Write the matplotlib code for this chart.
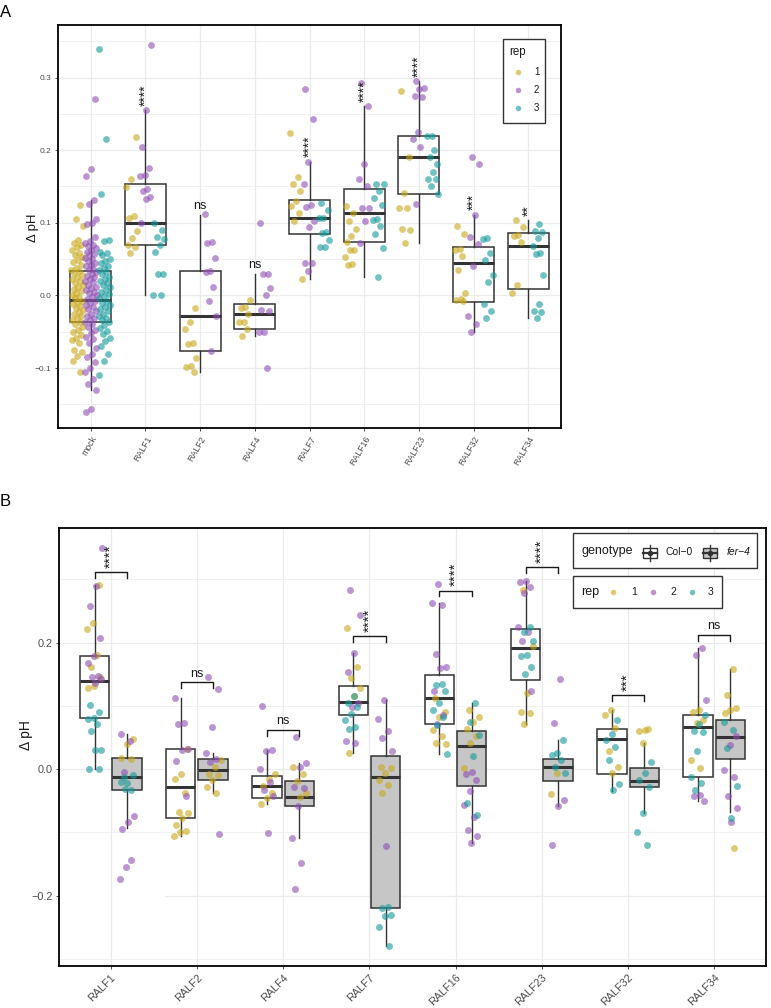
import numpy as np
import matplotlib.pyplot as plt
from matplotlib.patches import Rectangle
from matplotlib.lines import Line2D

plt.rcParams.update({'font.family': ['Liberation Sans', 'DejaVu Sans'], 'font.size': 8})

W, H = 771, 1008
REP_COLORS = {1: '#C9A81A', 2: '#8E4FB4', 3: '#14999A'}
ALPHA = 0.6
BOX_EDGE = '#333333'
GRID = '#EBEBEB'

# ---------------- panel A data ----------------
A_groups = ['mock', 'RALF1', 'RALF2', 'RALF4', 'RALF7', 'RALF16', 'RALF23', 'RALF32', 'RALF34']
A_q1 = [-0.037, 0.069, -0.077, -0.046, 0.084, 0.073, 0.140, -0.009, 0.009]
A_med = [-0.006, 0.100, -0.028, -0.026, 0.107, 0.113, 0.191, 0.044, 0.068]
A_q3 = [0.033, 0.154, 0.033, -0.012, 0.131, 0.147, 0.220, 0.066, 0.086]
A_lo = [-0.130, 0.000, -0.106, -0.056, 0.023, 0.025, 0.072, -0.050, -0.031]
A_hi = [0.131, 0.255, 0.111, 0.030, 0.184, 0.261, 0.295, 0.111, 0.104]
A_signif = ['', '****', 'ns', 'ns', '****', '****', '****', '***', '**']

A_mock = {
    1: [0.124, 0.105, 0.095, 0.076, 0.072, 0.070, 0.067, 0.063, 0.058, 0.055, 0.053, 0.049, 0.046,
        0.042, 0.038, 0.035, 0.033, 0.031, 0.028, 0.025, 0.022, 0.020, 0.017, 0.014, 0.012, 0.009,
        0.006, 0.004, 0.001, -0.002, -0.004, -0.007, -0.009, -0.012, -0.015, -0.018, -0.020, -0.023,
        -0.026, -0.029, -0.031, -0.034, -0.037, -0.040, -0.044, -0.047, -0.051, -0.054, -0.058,
        -0.061, -0.066, -0.075, -0.078, -0.084, -0.091, -0.105],
    2: [0.270, 0.174, 0.164, 0.131, 0.126, 0.105, 0.100, 0.098, 0.080, 0.075, 0.072, 0.070, 0.068,
        0.065, 0.062, 0.060, 0.057, 0.055, 0.052, 0.050, 0.048, 0.045, 0.042, 0.040, 0.037, 0.035,
        0.032, 0.030, 0.027, 0.025, 0.022, 0.020, 0.018, 0.015, 0.012, 0.010, 0.008, 0.005, 0.003,
        0.000, -0.002, -0.005, -0.008, -0.010, -0.013, -0.016, -0.019, -0.022, -0.025, -0.028,
        -0.031, -0.034, -0.037, -0.040, -0.044, -0.048, -0.052, -0.057, -0.060, -0.066, -0.072,
        -0.080, -0.085, -0.092, -0.100, -0.106, -0.115, -0.122, -0.130, -0.157, -0.160],
    3: [0.340, 0.216, 0.140, 0.077, 0.075, 0.060, 0.058, 0.055, 0.050, 0.047, 0.044, 0.041, 0.038,
        0.035, 0.032, 0.029, 0.026, 0.023, 0.020, 0.017, 0.014, 0.011, 0.008, 0.005, 0.002, -0.001,
        -0.004, -0.007, -0.010, -0.013, -0.016, -0.019, -0.022, -0.025, -0.028, -0.031, -0.034,
        -0.037, -0.041, -0.045, -0.049, -0.053, -0.058, -0.063, -0.070, -0.080, -0.090, -0.110],
}
A_RALF1 = {1: [0.218, 0.160, 0.149, 0.109, 0.107, 0.089, 0.079, 0.069, 0.067, 0.059],
           2: [0.345, 0.255, 0.205, 0.176, 0.166, 0.164, 0.146, 0.144, 0.135, 0.133, 0.100],
           3: [0.100, 0.090, 0.080, 0.078, 0.070, 0.060, 0.030, 0.029, 0.000, 0.001]}
A_RALF2 = {1: [-0.017, -0.036, -0.046, -0.066, -0.067, -0.086, -0.097, -0.098, -0.106],
           2: [0.112, 0.073, 0.072, 0.052, 0.033, 0.032, 0.012, -0.007, -0.028, -0.077],
           3: []}
A_RALF4 = {1: [-0.006, -0.016, -0.017, -0.026, -0.036, -0.037, -0.046, -0.056],
           2: [0.100, 0.030, 0.029, 0.010, 0.000, -0.020, -0.021, -0.050, -0.051, -0.100],
           3: []}
A_RALF7 = {1: [0.223, 0.163, 0.153, 0.144, 0.130, 0.123, 0.113, 0.103, 0.023],
           2: [0.284, 0.243, 0.184, 0.154, 0.124, 0.122, 0.103, 0.094, 0.045, 0.044, 0.034],
           3: [0.127, 0.117, 0.107, 0.106, 0.087, 0.086, 0.077, 0.067, 0.066]}
A_RALF16 = {1: [0.123, 0.113, 0.103, 0.092, 0.082, 0.073, 0.063, 0.062, 0.053, 0.043, 0.042],
            2: [0.293, 0.261, 0.181, 0.161, 0.151, 0.121, 0.120, 0.102, 0.072],
            3: [0.154, 0.153, 0.144, 0.134, 0.124, 0.105, 0.104, 0.095, 0.085, 0.065, 0.025]}
A_RALF23 = {1: [0.281, 0.191, 0.141, 0.121, 0.120, 0.091, 0.090, 0.072],
            2: [0.295, 0.285, 0.284, 0.274, 0.273, 0.225, 0.215, 0.205, 0.126],
            3: [0.220, 0.219, 0.200, 0.191, 0.181, 0.170, 0.161, 0.160, 0.151, 0.140]}
A_RALF32 = {1: [0.095, 0.084, 0.064, 0.063, 0.054, 0.035, 0.004, -0.005, -0.006, -0.007],
            2: [0.191, 0.181, 0.111, 0.081, 0.071, 0.040, -0.029, -0.039, -0.050],
            3: [0.079, 0.078, 0.059, 0.049, 0.028, 0.018, -0.012, -0.022, -0.031]}
A_RALF34 = {1: [0.104, 0.094, 0.083, 0.082, 0.074, 0.014, 0.004],
            2: [],
            3: [0.098, 0.089, 0.088, 0.079, 0.068, 0.058, 0.057, 0.028, -0.012, -0.022, -0.023, -0.031]}
A_points = [A_mock, A_RALF1, A_RALF2, A_RALF4, A_RALF7, A_RALF16, A_RALF23, A_RALF32, A_RALF34]

# ---------------- panel B data ----------------
B_groups = ['RALF1', 'RALF2', 'RALF4', 'RALF7', 'RALF16', 'RALF23', 'RALF32', 'RALF34']
B_col_q1 = [0.081, -0.077, -0.046, 0.085, 0.071, 0.141, -0.007, -0.013]
B_col_med = [0.140, -0.028, -0.026, 0.106, 0.112, 0.191, 0.048, 0.067]
B_col_q3 = [0.179, 0.032, -0.011, 0.131, 0.148, 0.222, 0.064, 0.086]
B_col_lo = [0.000, -0.106, -0.055, 0.025, 0.024, 0.072, -0.034, -0.051]
B_col_hi = [0.291, 0.112, 0.030, 0.183, 0.262, 0.298, 0.093, 0.191]
B_fer_q1 = [-0.033, -0.017, -0.058, -0.220, -0.026, -0.018, -0.028, 0.016]
B_fer_med = [-0.012, -0.002, -0.044, -0.013, 0.037, 0.004, -0.018, 0.051]
B_fer_q3 = [0.018, 0.016, -0.018, 0.021, 0.061, 0.016, 0.002, 0.077]
B_fer_lo = [-0.093, -0.037, -0.108, -0.280, -0.116, -0.058, -0.070, -0.068]
B_fer_hi = [0.056, 0.026, 0.010, 0.110, 0.104, 0.046, 0.042, 0.158]
B_bracket = [0.311, 0.137, 0.062, 0.210, 0.282, 0.319, 0.117, 0.212]
B_signif = ['****', 'ns', 'ns', '****', '****', '****', '***', 'ns']

B_RALF1_col = {1: [0.291, 0.231, 0.221, 0.181, 0.162, 0.146, 0.131, 0.128],
               2: [0.349, 0.289, 0.258, 0.207, 0.178, 0.167, 0.147, 0.145, 0.143, 0.136],
               3: [0.102, 0.091, 0.081, 0.079, 0.071, 0.061, 0.031, 0.030, 0.000, 0.001]}
B_RALF1_fer = {1: [0.048, 0.039, 0.018, 0.016],
               2: [0.056, 0.045, -0.004, -0.074, -0.084, -0.094, -0.143, -0.154, -0.174],
               3: [-0.012, -0.010, -0.022, -0.020, -0.033, -0.031]}
B_RALF2_col = {1: [0.032, -0.008, -0.016, -0.037, -0.067, -0.069, -0.077, -0.088, -0.097, -0.099, -0.106],
               2: [0.112, 0.073, 0.071, 0.032, 0.030, 0.013, -0.043],
               3: []}
B_RALF2_fer = {1: [0.014, 0.004, -0.007, -0.009, -0.017, -0.028, -0.037],
               2: [0.146, 0.126, 0.066, 0.026, 0.016, 0.012, -0.103],
               3: []}
B_RALF4_col = {1: [-0.007, -0.015, -0.026, -0.037, -0.046, -0.055],
               2: [0.100, 0.030, 0.028, 0.000, -0.020, -0.033, -0.043, -0.101],
               3: []}
B_RALF4_fer = {1: [0.004, -0.007, -0.018, -0.037, -0.044],
               2: [0.051, 0.010, 0.003, -0.028, -0.030, -0.058, -0.108, -0.149, -0.189],
               3: []}
B_RALF7_col = {1: [0.223, 0.162, 0.144, 0.129, 0.116, 0.025],
               2: [0.283, 0.244, 0.183, 0.153, 0.105, 0.098, 0.044, 0.042],
               3: [0.116, 0.105, 0.098, 0.087, 0.077, 0.066, 0.064]}
B_RALF7_fer = {1: [0.004, 0.002, -0.006, -0.017, -0.025, -0.037],
               2: [0.110, 0.080, 0.060, 0.049, 0.029, -0.122],
               3: [-0.218, -0.220, -0.230, -0.232, -0.249, -0.280]}
B_RALF16_col = {1: [0.112, 0.091, 0.083, 0.062, 0.052, 0.042, 0.040],
                2: [0.293, 0.262, 0.260, 0.182, 0.162, 0.160, 0.123, 0.086, 0.071],
                3: [0.135, 0.133, 0.123, 0.104, 0.094, 0.083, 0.070, 0.024]}
B_RALF16_fer = {1: [0.094, 0.083, 0.074, 0.063, 0.053, 0.042, 0.002],
                2: [-0.005, -0.007, -0.017, -0.035, -0.056, -0.075, -0.096, -0.105, -0.116],
                3: [0.105, 0.075, 0.054, 0.020, -0.054, -0.073]}
B_RALF23_col = {1: [0.283, 0.195, 0.121, 0.091, 0.089, 0.072],
                2: [0.298, 0.296, 0.287, 0.278, 0.225, 0.216, 0.202, 0.124],
                3: [0.225, 0.216, 0.203, 0.181, 0.179, 0.162, 0.150]}
B_RALF23_fer = {1: [-0.006, -0.039],
                2: [0.142, 0.073, -0.048, -0.059, -0.120],
                3: [0.046, 0.025, 0.023, 0.015, 0.004, -0.006]}
B_RALF32_col = {1: [0.094, 0.086, 0.065, 0.029, 0.003, -0.006],
                2: [],
                3: [0.077, 0.056, 0.046, 0.035, 0.014, -0.023, -0.033]}
B_RALF32_fer = {1: [0.062, 0.061, 0.063, 0.042],
                2: [],
                3: [0.012, -0.006, -0.017, -0.028, -0.070, -0.100, -0.120]}
B_RALF34_col = {1: [0.094, 0.090, 0.078, 0.073, 0.015, 0.002],
                2: [0.192, 0.181, 0.110, -0.041, -0.043, -0.051],
                3: [0.086, 0.072, 0.060, 0.058, 0.028, -0.012, -0.022, -0.033]}
B_RALF34_fer = {1: [0.158, 0.117, 0.096, 0.094, 0.088, -0.125],
                2: [0.052, 0.038, -0.001, -0.012, -0.042, -0.062, -0.083],
                3: [0.075, 0.062, 0.033, -0.027, -0.077]}
B_col_points = [B_RALF1_col, B_RALF2_col, B_RALF4_col, B_RALF7_col,
                B_RALF16_col, B_RALF23_col, B_RALF32_col, B_RALF34_col]
B_fer_points = [B_RALF1_fer, B_RALF2_fer, B_RALF4_fer, B_RALF7_fer,
                B_RALF16_fer, B_RALF23_fer, B_RALF32_fer, B_RALF34_fer]


def fx(px):
    return px / W


def fy(py):
    return 1 - py / H


def jitter(n, half, shift=0.0):
    # deterministic spread (golden-ratio sequence) instead of random jitter
    i = np.arange(n)
    return half * ((((i + 1) * 0.6180339887 + shift) % 1.0) * 2 - 1)


def box_stats(q1, med, q3, lo, hi):
    return [dict(q1=a, med=b, q3=c, whislo=d, whishi=e) for a, b, c, d, e in zip(q1, med, q3, lo, hi)]


def style_axis(ax, labelsize):
    for s in ax.spines.values():
        s.set_linewidth(1.3)
        s.set_color('black')
    ax.tick_params(which='major', length=2.5, width=0.6, color='#333333',
                   labelsize=labelsize, labelcolor='#4D4D4D', pad=2)
    ax.tick_params(which='minor', length=0)
    ax.set_axisbelow(True)


def draw_boxes(ax, stats, pos, width, face):
    ax.bxp(stats, positions=pos, widths=width, patch_artist=True, showfliers=False, showcaps=False,
           boxprops=dict(facecolor=face, edgecolor=BOX_EDGE, linewidth=1.1),
           medianprops=dict(color=BOX_EDGE, linewidth=2.2, solid_capstyle='butt'),
           whiskerprops=dict(color=BOX_EDGE, linewidth=1.0),
           manage_ticks=False, zorder=2)


fig = plt.figure(figsize=(W / 100, H / 100), dpi=100)

# ======================= panel A =======================
axA = fig.add_axes([fx(58), fy(428.3), (561 - 58) / W, (428.3 - 25.3) / H])
style_axis(axA, 6.0)
axA.set_xlim(-0.6, len(A_groups) - 0.4)
axA.set_ylim(-0.183, 0.372)
axA.set_yticks([-0.1, 0.0, 0.1, 0.2, 0.3])
axA.set_yticks(np.arange(-0.15, 0.37, 0.1), minor=True)
axA.set_yticklabels(['−0.1', '0.0', '0.1', '0.2', '0.3'])
axA.set_xticks(range(len(A_groups)))
axA.set_xticklabels(A_groups, rotation=60, ha='right', va='top', rotation_mode='anchor', fontsize=6.3)
axA.grid(which='major', color=GRID, linewidth=0.9)
axA.grid(which='minor', axis='y', color=GRID, linewidth=0.5)

draw_boxes(axA, box_stats(A_q1, A_med, A_q3, A_lo, A_hi), range(len(A_groups)), 0.75, 'none')

for gi, grp in enumerate(A_points):
    reps = [r for r in (1, 2, 3) if len(grp[r])]
    n = len(reps)
    for k, r in enumerate(reps):
        off = (k - (n - 1) / 2) * 0.75 / n
        vals = np.array(grp[r])
        xs = gi + off + jitter(len(vals), 0.11, 0.13 * r + 0.07 * gi)
        axA.scatter(xs, vals, s=24, color=REP_COLORS[r], alpha=ALPHA, linewidths=0, zorder=3)

for gi, lab in enumerate(A_signif):
    if not lab:
        continue
    if lab == 'ns':
        axA.text(gi, A_hi[gi] + 0.008, lab, ha='center', va='baseline', fontsize=9, color='#1A1A1A')
    else:
        axA.text(gi, A_hi[gi] + 0.006, lab, rotation=90, ha='center', va='bottom', fontsize=10,
                 color='#1A1A1A')

fig.text(fx(33), fy(228), 'Δ pH', rotation=90, ha='center', va='center', fontsize=9.5, color='#1A1A1A')
fig.text(fx(0), fy(17), 'A', ha='left', va='baseline', fontsize=12)

# legend A
fig.add_artist(Rectangle((fx(503.3), fy(123.3)), (545 - 503.3) / W, (123.3 - 39) / H,
                         transform=fig.transFigure, facecolor='white', edgecolor='#333333', linewidth=1.0))
fig.text(fx(509), fy(52), 'rep', ha='left', va='center', fontsize=8.3, color='#1A1A1A')
for r, ypx in zip((1, 2, 3), (71.7, 90, 108.3)):
    fig.add_artist(Line2D([fx(518.3)], [fy(ypx)], transform=fig.transFigure, marker='o', markersize=4,
                          color=REP_COLORS[r], alpha=ALPHA, markeredgewidth=0, linestyle='none'))
    fig.text(fx(536.7), fy(ypx), str(r), ha='center', va='center', fontsize=7, color='#1A1A1A')

# ======================= panel B =======================
axB = fig.add_axes([fx(59), fy(966), (766 - 59) / W, (966 - 528) / H])
style_axis(axB, 7.8)
axB.set_xlim(-0.6, len(B_groups) - 0.4)
axB.set_ylim(-0.311, 0.381)
axB.set_yticks([-0.2, 0.0, 0.2])
axB.set_yticklabels(['−0.2', '0.0', '0.2'])
axB.set_xticks(range(len(B_groups)))
axB.set_xticklabels(B_groups, rotation=45, ha='right', va='top', rotation_mode='anchor', fontsize=7.8)
axB.grid(which='major', axis='x', color=GRID, linewidth=0.9)
for v in (-0.3, -0.1, 0.1, 0.3):
    axB.axhline(v, color=GRID, linewidth=0.5, zorder=0)
axB.axhline(0.0, color=GRID, linewidth=0.9, zorder=0)
axB.axhline(0.2, color=GRID, linewidth=0.9, zorder=0)
axB.axhline(-0.2, xmin=(165 - 59) / (766 - 59), color=GRID, linewidth=0.9, zorder=0)

dodge = 0.1875
xpos = np.arange(len(B_groups))
draw_boxes(axB, box_stats(B_col_q1, B_col_med, B_col_q3, B_col_lo, B_col_hi), xpos - dodge, 0.34, 'white')
draw_boxes(axB, box_stats(B_fer_q1, B_fer_med, B_fer_q3, B_fer_lo, B_fer_hi), xpos + dodge, 0.34, '#C6C6C6')

for gi in range(len(B_groups)):
    for side, pts in ((-1, B_col_points[gi]), (1, B_fer_points[gi])):
        for r in (1, 2, 3):
            vals = np.array(pts[r])
            if not len(vals):
                continue
            xs = gi + side * dodge + jitter(len(vals), 0.09, 0.21 * r + 0.11 * gi + 0.05 * side)
            axB.scatter(xs, vals, s=25, color=REP_COLORS[r], alpha=ALPHA, linewidths=0, zorder=3)

for gi, lab in enumerate(B_signif):
    yb = B_bracket[gi]
    axB.plot([gi - dodge, gi - dodge, gi + dodge, gi + dodge], [yb - 0.009, yb, yb, yb - 0.009],
             color='#1A1A1A', linewidth=1.0, zorder=4)
    if lab == 'ns':
        axB.text(gi, yb + 0.009, lab, ha='center', va='baseline', fontsize=9, color='#1A1A1A')
    else:
        axB.text(gi, yb + 0.007, lab, rotation=90, ha='center', va='bottom', fontsize=11, color='#1A1A1A')

fig.text(fx(26), fy(735), 'Δ pH', rotation=90, ha='center', va='center', fontsize=10, color='#1A1A1A')
fig.text(fx(0), fy(506), 'B', ha='left', va='baseline', fontsize=12)


def box_key(cx, cy, face):
    fig.add_artist(Line2D([fx(cx), fx(cx)], [fy(cy - 8), fy(cy + 8)], transform=fig.transFigure,
                          color=BOX_EDGE, linewidth=1.0))
    fig.add_artist(Rectangle((fx(cx - 7), fy(cy + 5)), 14 / W, 10 / H, transform=fig.transFigure,
                             facecolor=face, edgecolor=BOX_EDGE, linewidth=1.0))
    fig.add_artist(Line2D([fx(cx - 7), fx(cx + 7)], [fy(cy), fy(cy)], transform=fig.transFigure,
                          color=BOX_EDGE, linewidth=1.6))
    fig.add_artist(Line2D([fx(cx)], [fy(cy)], transform=fig.transFigure, marker='o', markersize=3,
                          color='#333333', linestyle='none'))


# legend B: genotype
fig.add_artist(Rectangle((fx(573.3), fy(567.7)), (756.7 - 573.3) / W, (567.7 - 533.3) / H,
                         transform=fig.transFigure, facecolor='white', edgecolor='#333333', linewidth=1.0))
fig.text(fx(581.5), fy(551), 'genotype', ha='left', va='center', fontsize=9, color='#1A1A1A')
box_key(650, 553, 'white')
fig.text(fx(666), fy(552), 'Col−0', ha='left', va='center', fontsize=7.5, color='#1A1A1A')
box_key(710, 553, '#C6C6C6')
fig.text(fx(727), fy(552), 'fer−4', ha='left', va='center', fontsize=7.5, style='italic', color='#1A1A1A')

# legend B: rep
fig.add_artist(Rectangle((fx(573.3), fy(607.7)), (721.7 - 573.3) / W, (607.7 - 576) / H,
                         transform=fig.transFigure, facecolor='white', edgecolor='#333333', linewidth=1.0))
fig.text(fx(581.5), fy(592), 'rep', ha='left', va='center', fontsize=9, color='#1A1A1A')
for r, xd, xt in zip((1, 2, 3), (613, 652.7, 691.7), (634, 673, 711)):
    fig.add_artist(Line2D([fx(xd)], [fy(592)], transform=fig.transFigure, marker='o', markersize=4,
                          color=REP_COLORS[r], alpha=ALPHA, markeredgewidth=0, linestyle='none'))
    fig.text(fx(xt), fy(592), str(r), ha='center', va='center', fontsize=7.5, color='#1A1A1A')

fig.savefig('out.png', dpi=100)
